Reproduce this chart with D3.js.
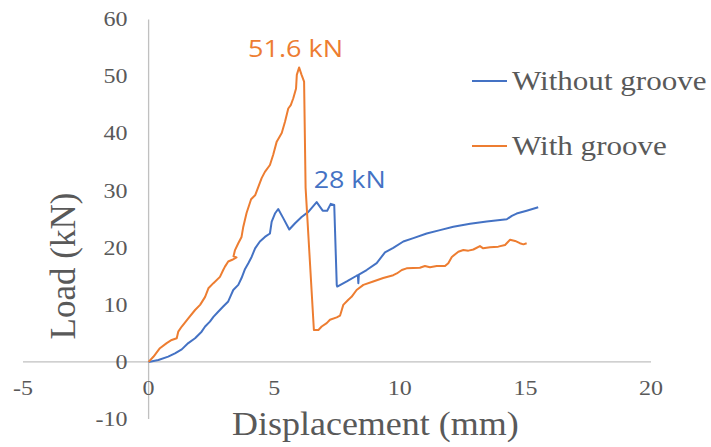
<!DOCTYPE html>
<html>
<head>
<meta charset="utf-8">
<script src="https://cdnjs.cloudflare.com/ajax/libs/d3/7.8.5/d3.min.js"></script>
<style>
  body { margin: 0; background: #fff; }
  svg { display: block; }
  .serif { font-family: "Liberation Serif", "Times New Roman", serif; fill: #595959; }
</style>
</head>
<body>
<svg width="711" height="447"></svg>
<script>
// displacement (mm) / load (kN)
var withoutDisp = [0, 0.39, 0.78, 1.05, 1.32, 1.58, 1.85, 2.11, 2.25, 2.44, 2.58, 2.77, 2.97, 3.17, 3.28, 3.37, 3.57, 3.7, 3.84, 3.97, 4.1, 4.24, 4.43, 4.63, 4.83, 4.9, 5.03, 5.16, 5.36, 5.6, 5.83, 6.09, 6.36, 6.69, 6.93, 7.11, 7.25, 7.39, 7.49, 7.51, 7.89, 8.28, 8.33, 8.35, 8.37, 8.68, 9.08, 9.41, 9.74, 10.14, 10.54, 11.07, 11.6, 12.13, 12.8, 13.46, 14.26, 14.46, 14.65, 15.05, 15.51];
var withoutLoad = [0, 0.35, 0.93, 1.5, 2.2, 3.3, 4.15, 5.3, 6.2, 7.06, 7.9, 8.8, 9.7, 10.6, 11.7, 12.6, 13.5, 14.7, 16.3, 17.3, 18.4, 19.9, 21.1, 21.9, 22.5, 24.6, 26, 26.8, 25.2, 23.2, 24.3, 25.4, 26.3, 28.0, 26.5, 26.5, 27.7, 27.5, 13.5, 13.2, 14.1, 15.1, 15.2, 13.8, 15.3, 16.1, 17.3, 19.2, 20.0, 21.1, 21.7, 22.5, 23.1, 23.7, 24.2, 24.6, 25.0, 25.6, 26.0, 26.5, 27.1];

var withDisp = [0, 0.19, 0.45, 0.72, 0.92, 1.12, 1.18, 1.32, 1.58, 1.85, 2.05, 2.25, 2.38, 2.58, 2.84, 2.97, 3.04, 3.17, 3.33, 3.5, 3.38, 3.44, 3.57, 3.7, 3.77, 3.9, 4.08, 4.24, 4.5, 4.63, 4.83, 4.96, 5.1, 5.3, 5.43, 5.56, 5.66, 5.76, 5.87, 5.9, 5.99, 6.09, 6.19, 6.25, 6.58, 6.76, 6.89, 7.09, 7.22, 7.49, 7.62, 7.69, 7.75, 7.95, 8.08, 8.28, 8.55, 8.94, 9.34, 9.74, 9.88, 10.08, 10.27, 10.8, 11.0, 11.2, 11.47, 11.8, 11.93, 12.07, 12.33, 12.53, 12.73, 12.93, 13.19, 13.32, 13.59, 13.92, 14.19, 14.39, 14.59, 14.78, 14.92, 15.05];
var withLoad = [0, 0.9, 2.4, 3.3, 3.85, 4.15, 5.3, 6.2, 7.65, 9.1, 10, 11.4, 12.9, 13.8, 14.9, 16.1, 16.7, 17.6, 17.9, 18.3, 18.5, 19.6, 20.8, 21.9, 23.7, 26.1, 28.5, 29.2, 32.2, 33.3, 34.5, 36.3, 38.6, 40.1, 42.1, 44.4, 45, 46.2, 47.9, 50.3, 51.6, 50.3, 49.1, 30.5, 5.6, 5.6, 6.2, 6.8, 7.4, 7.8, 8.1, 9.1, 10, 10.9, 11.4, 12.6, 13.5, 14.1, 14.7, 15.2, 15.5, 16.1, 16.4, 16.5, 16.8, 16.6, 16.8, 16.8, 17.3, 18.4, 19.3, 19.6, 19.5, 19.7, 20.3, 19.9, 20.1, 20.2, 20.5, 21.4, 21.2, 20.8, 20.6, 20.8];

var xTicks = [-5, 0, 5, 10, 15, 20];
var yTicks = [-10, 0, 10, 20, 30, 40, 50, 60];
var seriesNames = ["Without groove", "With groove"];
var seriesColors = ["#4472C4", "#ED7D31"];
var peakLabels = [
    { text: "51.6 kN", x: 5.99, y: 51.6, series: 1 },
    { text: "28 kN", x: 6.69, y: 28.0, series: 0 }
];

var svg = d3.select("svg");

var x = d3.scaleLinear().domain([-5, 20]).range([23, 651]);
var y = d3.scaleLinear().domain([-10, 60]).range([419, 19.5]);

// stretch text horizontally, the original picture is a bit wide
function stretch(sel, k) {
    sel.each(function () {
        var w = this.getComputedTextLength();
        d3.select(this).attr("textLength", w * k).attr("lengthAdjust", "spacingAndGlyphs");
    });
}

// axis lines cross at 0
svg.append("line")
    .attr("x1", x(-5)).attr("x2", x(20))
    .attr("y1", y(0)).attr("y2", y(0))
    .attr("stroke", "#c0c0c0").attr("stroke-width", 1.3);
svg.append("line")
    .attr("x1", x(0)).attr("x2", x(0))
    .attr("y1", y(-10)).attr("y2", y(60))
    .attr("stroke", "#c0c0c0").attr("stroke-width", 1.3);

var xl = svg.selectAll(".xt")
    .data(xTicks)
    .enter().append("text")
    .attr("class", "serif xt")
    .attr("x", function (d) { return x(d); })
    .attr("y", y(0) + 33)
    .attr("text-anchor", "middle")
    .style("font-size", "20px")
    .text(function (d) { return d; });
stretch(xl, 1.2);

var yl = svg.selectAll(".yt")
    .data(yTicks)
    .enter().append("text")
    .attr("class", "serif yt")
    .attr("x", x(0) - 21)
    .attr("y", function (d) { return y(d); })
    .attr("dy", "0.34em")
    .attr("text-anchor", "end")
    .style("font-size", "20px")
    .text(function (d) { return d; });
stretch(yl, 1.2);

var line = d3.line()
    .x(function (d) { return x(d[0]); })
    .y(function (d) { return y(d[1]); });

var series = [
    d3.zip(withoutDisp, withoutLoad),
    d3.zip(withDisp, withLoad)
];

svg.selectAll(".series")
    .data(series)
    .enter().append("path")
    .attr("class", "series")
    .attr("fill", "none")
    .attr("stroke", function (d, i) { return seriesColors[i]; })
    .attr("stroke-width", 2)
    .attr("stroke-linejoin", "round")
    .attr("d", line);

// peak annotations
var pl = svg.selectAll(".peak")
    .data(peakLabels)
    .enter().append("text")
    .attr("class", "peak")
    .attr("x", function (d) { return d.series === 1 ? x(d.x) - 51 : x(d.x) - 3; })
    .attr("y", function (d) { return d.series === 1 ? 57 : 188; })
    .style("font-family", "'Open Sans', 'Noto Sans', sans-serif")
    .style("font-size", "24px")
    .attr("fill", function (d) { return seriesColors[d.series]; })
    .text(function (d) { return d.text; });
pl.attr("textLength", function (d) { return d.series === 1 ? 95 : 72; })
    .attr("lengthAdjust", "spacingAndGlyphs");

// legend
var legend = svg.selectAll(".legend")
    .data(seriesNames)
    .enter().append("g")
    .attr("class", "legend")
    .attr("transform", function (d, i) { return "translate(472," + (81 + i * 65) + ")"; });
legend.append("line")
    .attr("x1", 0).attr("x2", 35)
    .attr("stroke", function (d, i) { return seriesColors[i]; })
    .attr("stroke-width", 2);
var lt = legend.append("text")
    .attr("class", "serif")
    .attr("x", 40)
    .attr("y", 9)
    .style("font-size", "27px")
    .text(function (d) { return d; });
stretch(lt, 1.15);

// axis titles
var xt = svg.append("text")
    .attr("class", "serif")
    .attr("x", 232)
    .attr("y", 435)
    .style("font-size", "33px")
    .text("Displacement (mm)");
stretch(xt, 1.09);

svg.append("text")
    .attr("class", "serif")
    .attr("transform", "translate(75,266) rotate(-90)")
    .attr("text-anchor", "middle")
    .style("font-size", "35px")
    .text("Load (kN)");
</script>
</body>
</html>
